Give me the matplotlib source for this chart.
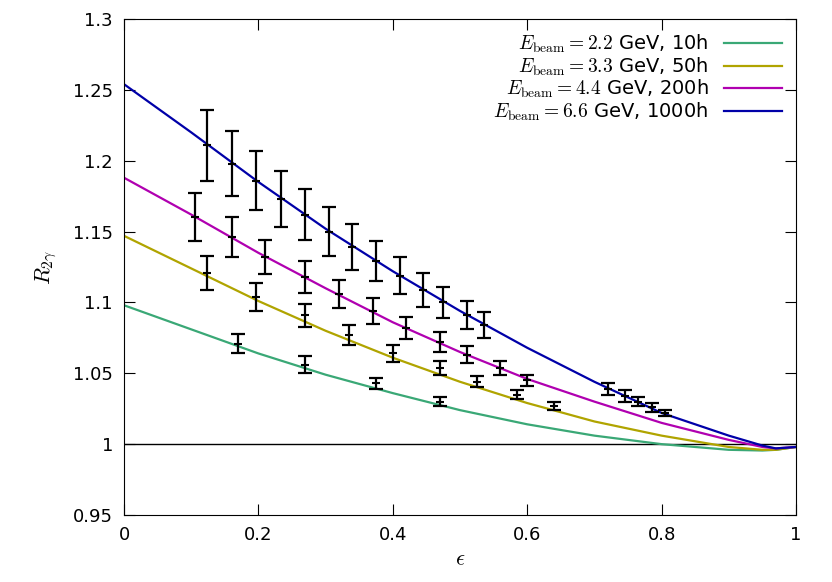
import numpy as np
import matplotlib
matplotlib.use("Agg")
import matplotlib.pyplot as plt

plt.rcParams["mathtext.fontset"] = "cm"

# curves
eps_c = [0, 0.1, 0.2, 0.3, 0.4, 0.5, 0.6, 0.7, 0.8, 0.9, 0.95, 0.97, 1.0]
r_22 = [1.098, 1.081, 1.064, 1.049, 1.036, 1.024, 1.014, 1.006, 1.000, 0.996, 0.9955, 0.996, 0.998]
r_33 = [1.147, 1.124, 1.101, 1.080, 1.061, 1.044, 1.029, 1.016, 1.006, 0.998, 0.996, 0.996, 0.998]
r_44 = [1.188, 1.162, 1.135, 1.110, 1.086, 1.065, 1.046, 1.030, 1.015, 1.003, 0.998, 0.997, 0.998]
r_66 = [1.254, 1.220, 1.185, 1.152, 1.122, 1.094, 1.068, 1.044, 1.022, 1.006, 0.999, 0.997, 0.998]

# data points
e22 = [0.17, 0.27, 0.375, 0.47]
y22 = [1.071, 1.056, 1.043, 1.030]
s22 = [0.007, 0.006, 0.004, 0.003]
e33 = [0.123, 0.197, 0.27, 0.335, 0.40, 0.47, 0.525, 0.585, 0.64]
y33 = [1.121, 1.104, 1.091, 1.077, 1.064, 1.054, 1.044, 1.035, 1.027]
s33 = [0.012, 0.010, 0.008, 0.007, 0.006, 0.005, 0.004, 0.003, 0.003]
e44 = [0.105, 0.16, 0.21, 0.27, 0.32, 0.37, 0.42, 0.47, 0.51, 0.56, 0.60]
y44 = [1.160, 1.146, 1.132, 1.118, 1.106, 1.094, 1.082, 1.072, 1.063, 1.054, 1.045]
s44 = [0.017, 0.014, 0.012, 0.011, 0.010, 0.009, 0.008, 0.007, 0.006, 0.005, 0.004]
e66 = [0.123, 0.16, 0.197, 0.233, 0.27, 0.305, 0.34, 0.375, 0.41, 0.445, 0.475, 0.51, 0.535,
       0.72, 0.745, 0.765, 0.785, 0.805]
y66 = [1.211, 1.198, 1.186, 1.173, 1.162, 1.150, 1.139, 1.129, 1.119, 1.109, 1.100, 1.091, 1.084,
       1.039, 1.034, 1.030, 1.026, 1.022]
s66 = [0.025, 0.023, 0.021, 0.020, 0.018, 0.017, 0.016, 0.014, 0.013, 0.012, 0.011, 0.010, 0.009,
       0.004, 0.004, 0.003, 0.003, 0.002]

labels = [r"$E_{\mathrm{beam}}=2.2$ GeV, 10h", r"$E_{\mathrm{beam}}=3.3$ GeV, 50h",
          r"$E_{\mathrm{beam}}=4.4$ GeV, 200h", r"$E_{\mathrm{beam}}=6.6$ GeV, 1000h"]
colors = ["#3aa876", "#b0a400", "#b000b0", "#0000a8"]

fig = plt.figure(figsize=(8.32, 5.82), dpi=100)
ax = fig.add_axes([124/832, 67/582, 672/832, 496/582])
ax.axhline(1.0, color="black", lw=1)
for r, lab, c in zip([r_22, r_33, r_44, r_66], labels, colors):
    ax.plot(eps_c, r, color=c, lw=1.6, label=lab)
for e, y, s in [(e22, y22, s22), (e33, y33, s33), (e44, y44, s44), (e66, y66, s66)]:
    ax.errorbar(e, y, yerr=s, fmt="none", ecolor="black", elinewidth=1.6, capsize=5, capthick=1.6)
    ax.plot(e, y, ls="none", marker="_", color="black", ms=6, mew=1.5)

ax.set_xlim(0, 1)
ax.set_ylim(0.95, 1.3)
ax.set_xticks([0, 0.2, 0.4, 0.6, 0.8, 1])
ax.set_xticklabels(["0", "0.2", "0.4", "0.6", "0.8", "1"])
ax.set_yticks([0.95, 1, 1.05, 1.1, 1.15, 1.2, 1.25, 1.3])
ax.set_yticklabels(["0.95", "1", "1.05", "1.1", "1.15", "1.2", "1.25", "1.3"])
ax.tick_params(direction="in", labelsize=13, pad=8, top=True, right=True, length=8)
ax.set_xlabel(r"$\epsilon$", fontsize=16)
ax.set_ylabel(r"$R_{2\gamma}$", fontsize=16, labelpad=10)
leg = ax.legend(loc="upper right", frameon=False, fontsize=14, markerfirst=False,
                handlelength=3, borderaxespad=0.3, labelspacing=0.02)
for t in leg.get_texts():
    t.set_ha("right")
fig.savefig("out.png", dpi=100)
